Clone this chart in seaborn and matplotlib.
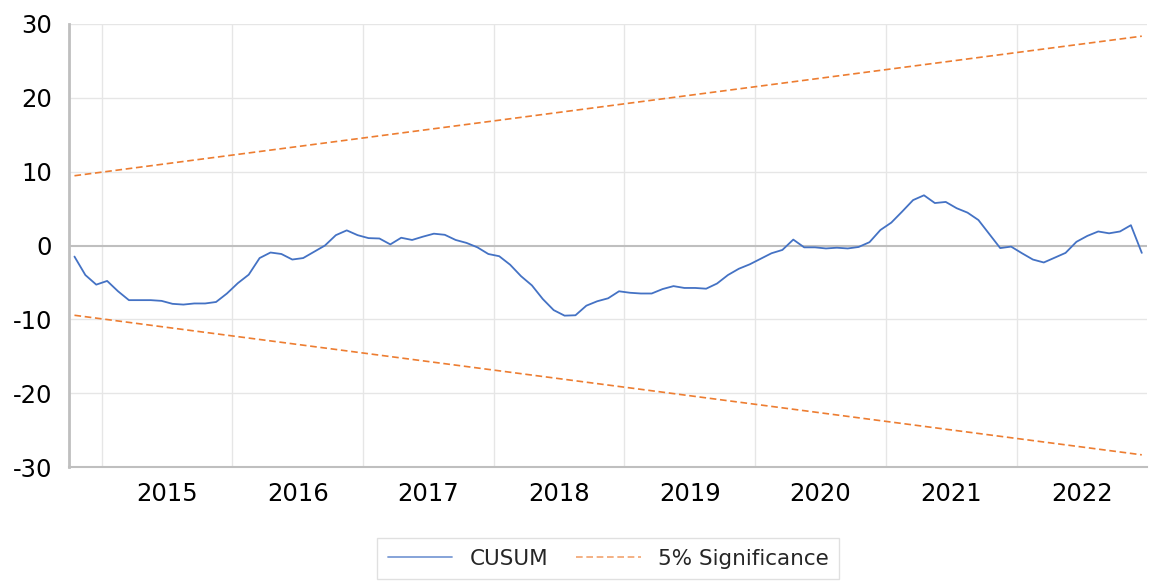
import pandas as pd
import matplotlib.pyplot as plt
import seaborn as sns

# monthly CUSUM, Oct 2014 - Dec 2022
cusum = [
    -1.5, -4.0, -5.3, -4.8, -6.2, -7.4, -7.4, -7.4, -7.5, -7.9, -8.0, -7.85,
    -7.85, -7.65, -6.5, -5.1, -3.95, -1.7, -0.95, -1.15, -1.9, -1.7, -0.85, 0.0,
    1.4, 2.05, 1.4, 1.0, 0.95, 0.15, 1.05, 0.75, 1.2, 1.6, 1.45, 0.75,
    0.35, -0.25, -1.15, -1.45, -2.6, -4.15, -5.4, -7.25, -8.75, -9.5, -9.45, -8.15,
    -7.55, -7.15, -6.2, -6.4, -6.5, -6.5, -5.9, -5.5, -5.75, -5.75, -5.85, -5.15,
    -4.0, -3.15, -2.55, -1.8, -1.05, -0.6, 0.8, -0.25, -0.25, -0.4, -0.3, -0.4,
    -0.2, 0.45, 2.1, 3.1, 4.6, 6.15, 6.8, 5.75, 5.9, 5.05, 4.45, 3.45,
    1.55, -0.35, -0.15, -1.05, -1.9, -2.3, -1.65, -1.0, 0.5, 1.3, 1.9, 1.65,
    1.9, 2.75, -1.0,
]
months = pd.period_range("2014-10", "2022-12", freq="M")

# 5% significance bounds at first and last month (straight lines)
sig_start = 9.45
sig_end = 28.35

years = ["2015", "2016", "2017", "2018", "2019", "2020", "2021", "2022"]
yticks = [-30, -20, -10, 0, 10, 20, 30]

df = pd.DataFrame({"idx": range(len(cusum)), "CUSUM": cusum})
sig = pd.DataFrame({"idx": [0, len(cusum) - 1], "upper": [sig_start, sig_end],
                    "lower": [-sig_start, -sig_end]})

sns.set_style("white")
plt.rcParams["font.family"] = ["DejaVu Sans"]

fig = plt.figure(figsize=(11.6, 5.81), dpi=100)
ax = fig.add_axes([0.0595, 0.1962, 0.9295, 0.7625])

# year boundaries and grid
for i, m in enumerate(months):
    if m.month == 1:
        ax.axvline(i - 0.5, color="#e6e6e6", lw=1, zorder=0)
for yv in yticks:
    if yv not in (0, -30):
        ax.axhline(yv, color="#e6e6e6", lw=1, zorder=0)
ax.axhline(0, color="#bfbfbf", lw=1.5, zorder=1)

sns.lineplot(data=df, x="idx", y="CUSUM", ax=ax, color="#4472C4", lw=1.3,
             label="CUSUM", zorder=3)
sns.lineplot(data=sig, x="idx", y="upper", ax=ax, color="#ED7D31", lw=1.2,
             label="5% Significance", zorder=2)
sns.lineplot(data=sig, x="idx", y="lower", ax=ax, color="#ED7D31", lw=1.2,
             zorder=2)
ax.lines[-1].set_linestyle((0, (4, 2.2)))
ax.lines[-2].set_linestyle((0, (4, 2.2)))

ax.set_xlim(-0.5, len(cusum) - 0.5)
ax.set_ylim(-30, 30)
ax.set_yticks(yticks)
ax.set_yticklabels([str(v) for v in yticks])

centers = []
for y in years:
    pos = [i for i, m in enumerate(months) if str(m.year) == y]
    centers.append((pos[0] + pos[-1]) / 2)
ax.set_xticks(centers)
ax.set_xticklabels(years)
ax.tick_params(axis="both", length=0, labelsize=17.5, colors="black")
ax.tick_params(axis="y", pad=12)
ax.tick_params(axis="x", pad=11)
ax.set_xlabel("")
ax.set_ylabel("")

for s in ["top", "right"]:
    ax.spines[s].set_visible(False)
ax.spines["left"].set_color("#bfbfbf")
ax.spines["left"].set_linewidth(2)
ax.spines["bottom"].set_color("#bfbfbf")
ax.spines["bottom"].set_linewidth(1.5)

leg = ax.legend(loc="upper center", bbox_to_anchor=(0.5, -0.16), ncol=2,
                fontsize=15.5, handlelength=3.0, handletextpad=0.8,
                columnspacing=1.3, frameon=True, fancybox=False,
                edgecolor="#d9d9d9", borderpad=0.5, borderaxespad=0)
leg.get_frame().set_linewidth(1)
leg.get_lines()[1].set_linestyle((0, (4, 2.2)))
for h in leg.get_lines():
    h.set_alpha(0.7)

fig.savefig("out.png", dpi=100)
